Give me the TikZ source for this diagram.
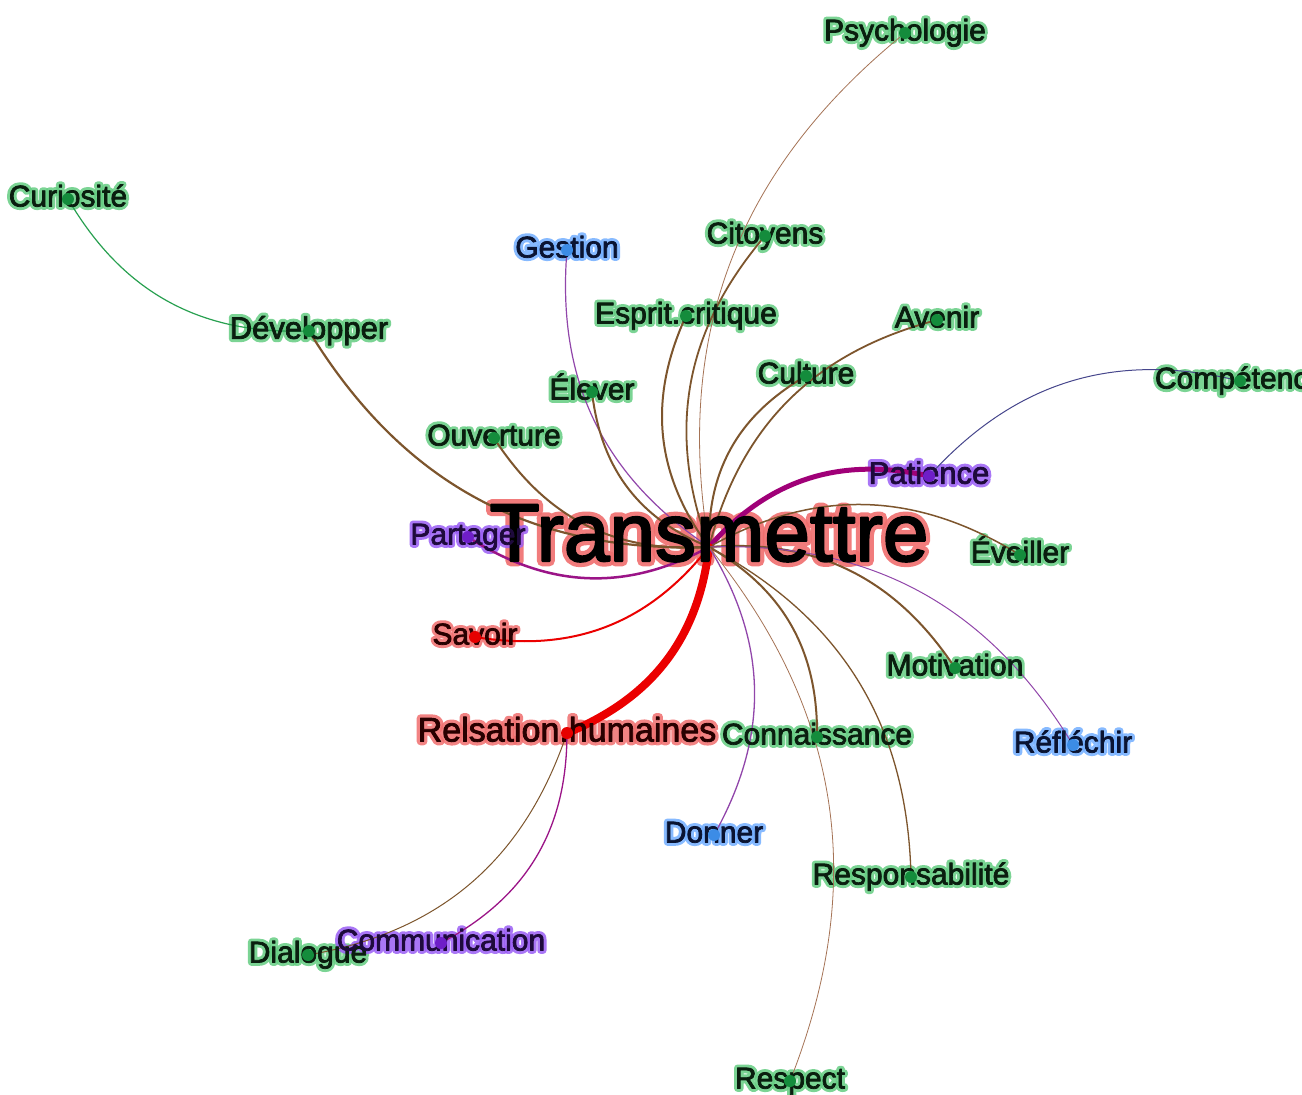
\documentclass[tikz,border=0pt]{standalone}
\usepackage{fontspec}
\setmainfont{Liberation Sans}
\newfontfamily\lblfont[FakeBold=2.5]{Liberation Sans}
\newfontfamily\halofont[FakeBold=22]{Liberation Sans}
\newfontfamily\halofontT[FakeBold=13]{Liberation Sans}
\usetikzlibrary{calc}
\definecolor{brownE}{RGB}{125,85,45}
\definecolor{lbrownE}{RGB}{165,115,85}
\definecolor{purpleE}{RGB}{145,70,170}
\definecolor{magE}{RGB}{160,0,120}
\definecolor{magE2}{RGB}{155,20,135}
\definecolor{redE}{RGB}{235,0,0}
\definecolor{greenE}{RGB}{40,160,80}
\definecolor{slateE}{RGB}{70,70,140}
\definecolor{dotg}{RGB}{20,140,60}
\definecolor{dotp}{RGB}{110,30,200}
\definecolor{dotb}{RGB}{60,140,230}
\definecolor{dotr}{RGB}{230,0,0}
\definecolor{halog}{RGB}{100,205,130}
\definecolor{halop}{RGB}{155,95,245}
\definecolor{halob}{RGB}{115,175,255}
\definecolor{halor}{RGB}{240,110,110}
\definecolor{txtg}{RGB}{10,30,15}
\definecolor{txtp}{RGB}{30,10,60}
\definecolor{txtb}{RGB}{10,20,50}
\definecolor{txtr}{RGB}{40,0,0}
\pgfdeclarelayer{bg}
\pgfdeclarelayer{halo}
\pgfdeclarelayer{edges}
\pgfdeclarelayer{dots}
\pgfsetlayers{bg,halo,edges,main,dots}
\tikzset{
  dotnode/.style={circle,inner sep=0pt,minimum size=12pt,fill=#1},
  wtext/.style={inner sep=0pt,anchor=base,text=#1,line join=round},
  whalo/.style={inner sep=0pt,anchor=base,text=#1,opacity=0.85,line join=round},
  edge/.style={bend right=30,line cap=round},
}
% #1 name, #2 x, #3 y, #4 text, #5 category, #6 size
\newcommand\wrd[6]{%
  \begin{pgfonlayer}{halo}
    \node[whalo=halo#5,font=\halofont\fontsize{#6}{#6}\selectfont] (#1-h) at (#2,{#3+0.25*#6}) {#4};
  \end{pgfonlayer}
  \node[wtext=txt#5,font=\lblfont\fontsize{#6}{#6}\selectfont] (#1-l) at (#2,{#3+0.25*#6}) {#4};
  \begin{pgfonlayer}{dots}
    \node[dotnode=dot#5] (#1) at (#2,#3) {};
  \end{pgfonlayer}
}
\begin{document}
\begin{tikzpicture}[x=1pt,y=-1pt]
\begin{pgfonlayer}{bg}
\fill[white] (0,0) rectangle (1302,1095);
\end{pgfonlayer}
\useasboundingbox (0,0) rectangle (1302,1095);
% hub
\coordinate (T) at (709,547);
\begin{pgfonlayer}{halo}
  \node[whalo=halor,opacity=0.9,font=\halofontT\fontsize{82}{82}\selectfont] (T-h) at (709,561) {Transmettre};
\end{pgfonlayer}
\node[wtext=black,font=\lblfont\fontsize{82}{82}\selectfont] (T-l) at (709,561) {Transmettre};
% words
\wrd{psy}{905}{33}{Psychologie}{g}{30}
\wrd{cur}{68}{199}{Curiosité}{g}{30}
\wrd{ges}{567}{250}{Gestion}{b}{30}
\wrd{cit}{765}{236}{Citoyens}{g}{30}
\wrd{esp}{686}{316}{Esprit.critique}{g}{30}
\wrd{dev}{309}{331}{Développer}{g}{31}
\wrd{ave}{937}{320}{Avenir}{g}{30}
\wrd{cul}{806}{376}{Culture}{g}{30}
\wrd{comp}{1240}{381}{Compétence}{g}{30}
\wrd{ele}{592}{392}{Élever}{g}{30}
\wrd{ouv}{494}{438}{Ouverture}{g}{30}
\wrd{pat}{929}{476}{Patience}{p}{31}
\wrd{par}{468}{537}{Partager}{p}{30}
\wrd{eve}{1020}{555}{Éveiller}{g}{30}
\wrd{sav}{475}{637}{Savoir}{r}{30}
\wrd{mot}{955}{668}{Motivation}{g}{30}
\wrd{rel}{567}{733}{Relsation.humaines}{r}{34}
\wrd{con}{817}{737}{Connaissance}{g}{30}
\wrd{ref}{1073}{745}{Réfléchir}{b}{30}
\wrd{don}{714}{835}{Donner}{b}{30}
\wrd{resp}{911}{877}{Responsabilité}{g}{30}
\wrd{dia}{308}{955}{Dialogue}{g}{30}
\wrd{com}{441}{943}{Communication}{p}{30}
\wrd{rsp}{790}{1081}{Respect}{g}{30}
% edges
\begin{pgfonlayer}{edges}
\draw[edge,greenE,line width=1.2pt] (cur) to (dev);
\draw[edge,brownE,line width=2.2pt] (dev) to (T);
\draw[edge,lbrownE,line width=0.8pt] (psy) to (T);
\draw[edge,brownE,line width=1.8pt] (cit) to (T);
\draw[edge,brownE,line width=2pt] (esp) to (T);
\draw[edge,purpleE,line width=1.2pt] (ges) to (T);
\draw[edge,brownE,line width=2pt] (ele) to (T);
\draw[edge,brownE,line width=2pt] (ouv) to (T);
\draw[edge,brownE,line width=1.8pt] (ave) to (T);
\draw[edge,brownE,line width=2pt] (cul) to (T);
\draw[edge,slateE,line width=1pt] (comp) to (pat);
\draw[edge,magE,line width=5pt] (pat) to (T);
\draw[edge,brownE,line width=1.5pt] (eve) to (T);
\draw[edge,magE2,line width=2.5pt] (par) to (T);
\draw[edge,redE,line width=2pt] (sav) to (T);
\draw[edge,redE,line width=8pt] (rel) to (T);
\draw[edge,brownE,line width=2pt] (mot) to (T);
\draw[edge,purpleE,line width=1pt] (ref) to (T);
\draw[edge,brownE,line width=2pt] (con) to (T);
\draw[edge,purpleE,line width=1.3pt] (don) to (T);
\draw[edge,brownE,line width=1.3pt] (resp) to (T);
\draw[edge,lbrownE,line width=0.8pt] (rsp) to (T);
\draw[edge,brownE,line width=1pt] (dia) to (rel);
\draw[edge,magE2,line width=1.3pt] (com) to (rel);
\end{pgfonlayer}
\end{tikzpicture}
\end{document}
